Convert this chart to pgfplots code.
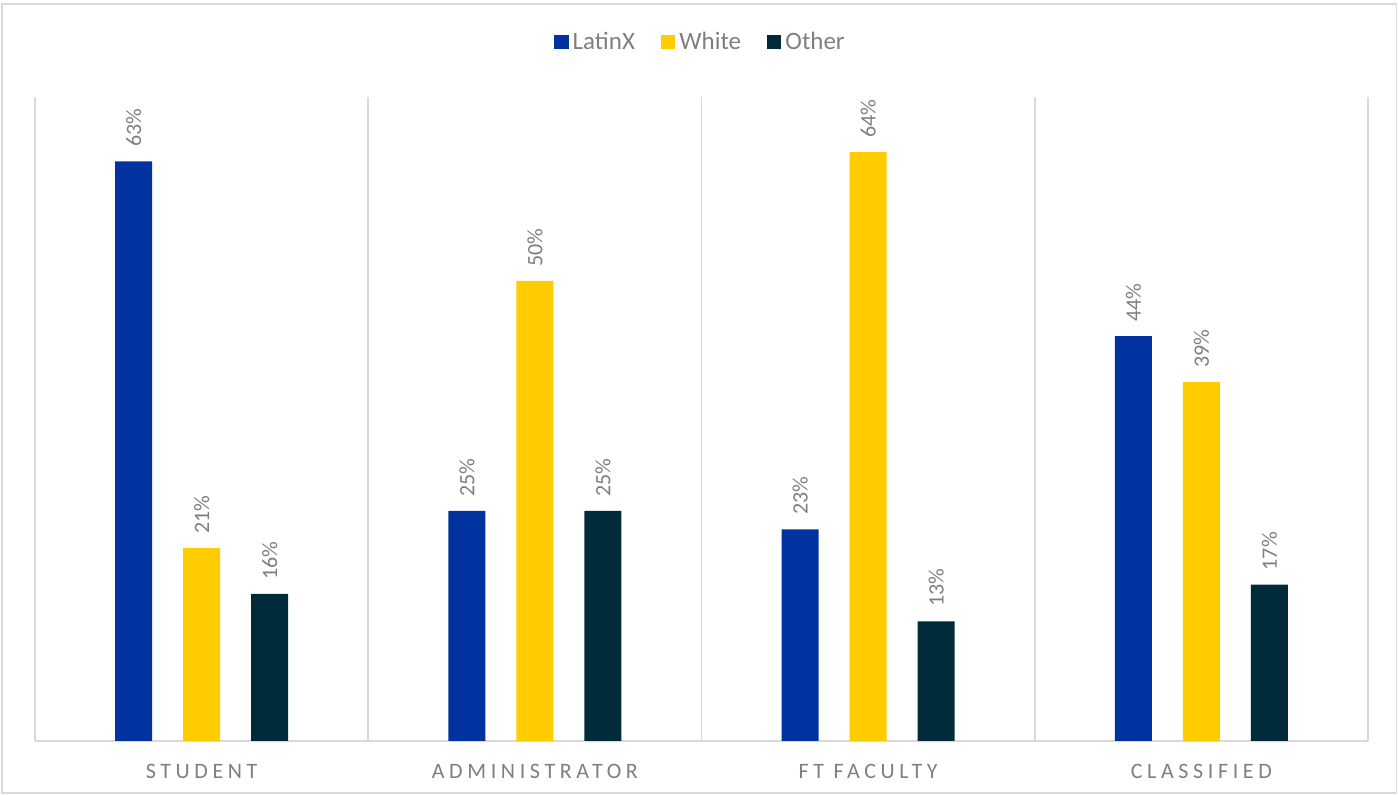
\documentclass[border=0pt]{standalone}
\usepackage{fontspec}
\setmainfont{Carlito}
\usepackage{pgfplots}
\pgfplotsset{compat=1.18}
\definecolor{cLat}{HTML}{0033A0}
\definecolor{cWhi}{HTML}{FFCC00}
\definecolor{cOth}{HTML}{002B3A}
\definecolor{txt}{HTML}{7F7F7F}
\definecolor{grd}{HTML}{D9D9D9}
\begin{document}
\begin{tikzpicture}
\path[use as bounding box] (0,0) rectangle (699pt,397.5pt);
\draw[grd, line width=0.8pt] (1pt,1pt) rectangle (698.3pt,395.5pt);
\begin{axis}[
  at={(17.5pt,27pt)}, anchor=south west,
  scale only axis, width=666.5pt, height=322pt,
  ybar=15.5pt, bar width=18.5pt,
  xmin=-0.5, xmax=3.5, ymin=0, ymax=70,
  xtick={0,1,2,3},
  xticklabels={STUDENT,ADMINISTRATOR,FT FACULTY,CLASSIFIED},
  xticklabel style={font=\fontsize{11}{13}\selectfont\addfontfeature{LetterSpace=21}, text=txt, yshift=-8pt},
  major tick length=0pt,
  minor xtick={-0.5,0.5,1.5,2.5,3.5},
  xminorgrids=true,
  minor grid style={grd, line width=0.8pt},
  minor tick length=0pt,
  axis x line*=bottom, axis y line=none,
  x axis line style={grd, line width=0.8pt, -},
  ytick=\empty,
  /pgf/number format/assume math mode=true,
  nodes near coords={\pgfmathprintnumber{\pgfplotspointmeta}\%},
  every node near coord/.append style={rotate=90, anchor=west, inner xsep=7pt, text=txt, font=\fontsize{11}{13}\selectfont},
  legend columns=-1,
  legend style={at={(0.5,1.085)}, anchor=center, draw=none, fill=none, font=\fontsize{12.5}{14}\selectfont, text=txt,
    /tikz/every even column/.append style={column sep=11pt}},
  legend image code/.code={\fill[#1] (0pt,-3.6pt) rectangle (7.2pt,3.6pt);},
]
\addplot[fill=cLat, draw=none] coordinates {(0,63) (1,25) (2,23) (3,44)};
\addplot[fill=cWhi, draw=none] coordinates {(0,21) (1,50) (2,64) (3,39)};
\addplot[fill=cOth, draw=none] coordinates {(0,16) (1,25) (2,13) (3,17)};
\legend{LatinX,White,Other}
\end{axis}
\end{tikzpicture}
\end{document}
